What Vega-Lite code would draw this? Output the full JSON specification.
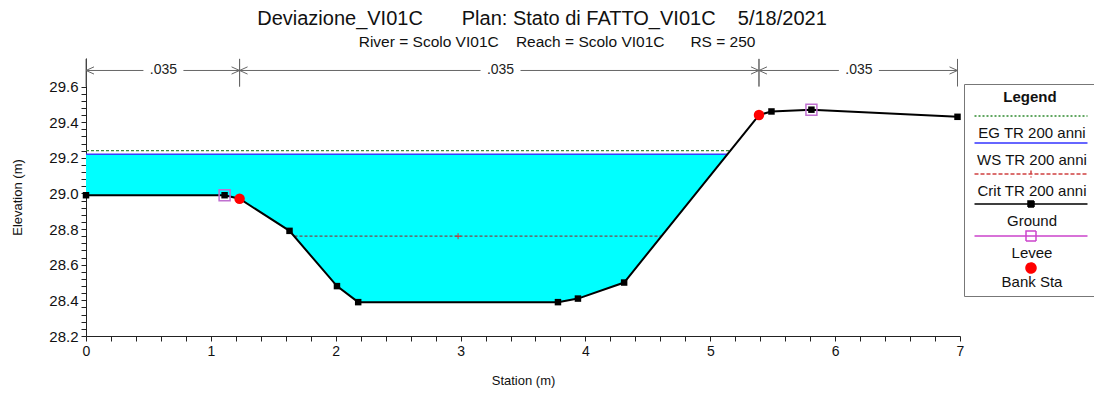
{
  "$schema": "https://vega.github.io/schema/vega-lite/v6.json",
  "width": 874,
  "height": 278,
  "autosize": "none",
  "padding": {"left": 86, "top": 58, "right": 134, "bottom": 58},
  "background": "white",
  "title": {
    "text": "Deviazione_VI01C\u00a0\u00a0\u00a0\u00a0\u00a0\u00a0\u00a0Plan: Stato di FATTO_VI01C\u00a0\u00a0\u00a0\u00a05/18/2021",
    "subtitle": "\u200b\u00a0\u00a0\u00a0\u00a0\u00a0\u00a0\u00a0River = Scolo VI01C\u00a0\u00a0\u00a0\u00a0Reach = Scolo VI01C\u00a0\u00a0\u00a0\u00a0\u00a0\u00a0RS = 250",
    "anchor": "middle",
    "frame": "group",
    "dx": 19,
    "offset": 8,
    "fontSize": 20,
    "fontWeight": "normal",
    "color": "#111111",
    "subtitleFontSize": 15.5,
    "subtitleColor": "#111111",
    "subtitlePadding": 6
  },
  "datasets": {
    "ground": [
      {"station": 0, "elev": 28.99},
      {"station": 1.11, "elev": 28.99},
      {"station": 1.23, "elev": 28.97},
      {"station": 1.63, "elev": 28.79},
      {"station": 2.01, "elev": 28.48},
      {"station": 2.18, "elev": 28.39},
      {"station": 3.78, "elev": 28.39},
      {"station": 3.94, "elev": 28.41},
      {"station": 4.31, "elev": 28.5},
      {"station": 5.39, "elev": 29.44},
      {"station": 5.49, "elev": 29.46},
      {"station": 5.81, "elev": 29.47},
      {"station": 6.98, "elev": 29.43}
    ],
    "water": [
      {"station": 0, "elev": 28.99, "ws": 29.22},
      {"station": 1.11, "elev": 28.99, "ws": 29.22},
      {"station": 1.23, "elev": 28.97, "ws": 29.22},
      {"station": 1.63, "elev": 28.79, "ws": 29.22},
      {"station": 2.01, "elev": 28.48, "ws": 29.22},
      {"station": 2.18, "elev": 28.39, "ws": 29.22},
      {"station": 3.78, "elev": 28.39, "ws": 29.22},
      {"station": 3.94, "elev": 28.41, "ws": 29.22},
      {"station": 4.31, "elev": 28.5, "ws": 29.22},
      {"station": 5.14, "elev": 29.22, "ws": 29.22}
    ],
    "eg": [{"station": 0, "elev": 29.24}, {"station": 5.16, "elev": 29.24}],
    "ws": [{"station": 0, "elev": 29.22}, {"station": 5.14, "elev": 29.22}],
    "crit": [{"station": 1.67, "elev": 28.76}, {"station": 4.61, "elev": 28.76}],
    "crit_marker": [{"station": 2.98, "elev": 28.76}],
    "levee": [{"station": 1.11, "elev": 28.99}, {"station": 5.81, "elev": 29.47}],
    "bank": [{"station": 1.23, "elev": 28.97}, {"station": 5.39, "elev": 29.44}],
    "nvals": [
      {"from": 0, "to": 1.23, "mid": 0.62, "n": ".035"},
      {"from": 1.23, "to": 5.39, "mid": 3.32, "n": ".035"},
      {"from": 5.39, "to": 6.98, "mid": 6.19, "n": ".035"}
    ],
    "legend_items": [
      {"series": "EG TR 200 anni"},
      {"series": "WS TR 200 anni"},
      {"series": "Crit TR 200 anni"},
      {"series": "Ground"},
      {"series": "Levee"},
      {"series": "Bank Sta"}
    ]
  },
  "layer": [
    {
      "encoding": {
        "x": {
          "field": "station",
          "type": "quantitative",
          "title": "Station (m)",
          "scale": {"domain": [0, 7], "nice": false, "zero": false},
          "axis": {
            "values": [0,0.2,0.4,0.6,0.8,1,1.2,1.4,1.6,1.8,2,2.2,2.4,2.6,2.8,3,3.2,3.4,3.6,3.8,4,4.2,4.4,4.6,4.8,5,5.2,5.4,5.6,5.8,6,6.2,6.4,6.6,6.8,7],
            "labelExpr": "abs(datum.value - round(datum.value)) < 0.001 ? format(datum.value, 'd') : ''"
          }
        },
        "y": {
          "field": "elev",
          "type": "quantitative",
          "title": "Elevation (m)",
          "scale": {"domain": [28.2, 29.76], "nice": false, "zero": false},
          "axis": {
            "values": [28.2,28.24,28.28,28.32,28.36,28.4,28.44,28.48,28.52,28.56,28.6,28.64,28.68,28.72,28.76,28.8,28.84,28.88,28.92,28.96,29,29.04,29.08,29.12,29.16,29.2,29.24,29.28,29.32,29.36,29.4,29.44,29.48,29.52,29.56,29.6],
            "labelExpr": "abs(datum.value * 5 - round(datum.value * 5)) < 0.001 ? format(datum.value, '.1f') : ''"
          }
        }
      },
      "layer": [
        {
          "data": {"name": "water"},
          "mark": {"type": "area", "color": "#00ffff", "opacity": 1},
          "encoding": {"y2": {"field": "ws"}}
        },
        {
          "data": {"name": "eg"},
          "mark": {"type": "line", "color": "#3a8a3a", "strokeWidth": 1.2, "strokeDash": [3, 2]},
          "encoding": {}
        },
        {
          "data": {"name": "ws"},
          "mark": {"type": "line", "color": "#3d3dff", "strokeWidth": 1.5},
          "encoding": {}
        },
        {
          "data": {"name": "crit"},
          "mark": {"type": "line", "color": "#7a4a4a", "strokeWidth": 1.2, "strokeDash": [3, 2]},
          "encoding": {}
        },
        {
          "data": {"name": "crit_marker"},
          "mark": {"type": "point", "shape": "M-1,0H1M0,-1V1", "size": 36, "color": "#d03030", "strokeWidth": 1, "filled": false, "opacity": 1},
          "encoding": {}
        },
        {
          "data": {"name": "ground"},
          "mark": {"type": "line", "color": "#000000", "strokeWidth": 2},
          "encoding": {}
        },
        {
          "data": {"name": "levee"},
          "mark": {"type": "point", "shape": "square", "size": 120, "color": "#c070d0", "strokeWidth": 1.5, "filled": false, "opacity": 1},
          "encoding": {}
        },
        {
          "data": {"name": "ground"},
          "mark": {"type": "point", "shape": "square", "size": 42, "color": "#000000", "filled": true, "opacity": 1},
          "encoding": {}
        },
        {
          "data": {"name": "bank"},
          "mark": {"type": "point", "shape": "circle", "size": 110, "color": "#ff0000", "filled": true, "opacity": 1},
          "encoding": {}
        },
        {
          "data": {"name": "legend_items"},
          "mark": {"type": "point", "filled": false, "strokeWidth": 1.5, "opacity": 1},
          "encoding": {
            "stroke": {
              "field": "series",
              "type": "nominal",
              "scale": {
                "domain": ["EG TR 200 anni", "WS TR 200 anni", "Crit TR 200 anni", "Ground", "Levee", "Bank Sta"],
                "range": ["#2e8b2e", "#3535ff", "#d04040", "#000000", "#cc44cc", "#ff0000"]
              },
              "legend": {
                "title": "Legend",
                "orient": "none",
                "legendX": 878,
                "legendY": 26,
                "symbolSize": 400,
                "symbolStrokeWidth": 1.5,
                "symbolFillColor": "transparent",
                "symbolOpacity": 1,
                "symbolOffset": 50,
                "labelAlign": "center",
                "labelOffset": -10,
                "labelFontSize": 15,
                "labelColor": "#111111",
                "labelLimit": 0,
                "titleFontSize": 15,
                "titleFontWeight": "bold",
                "titleColor": "#111111",
                "titleAnchor": "middle",
                "titlePadding": 17,
                "strokeColor": "#777777",
                "fillColor": "white",
                "padding": 6,
                "rowPadding": -1
              }
            },
            "fill": {
              "field": "series",
              "type": "nominal",
              "scale": {
                "domain": ["EG TR 200 anni", "WS TR 200 anni", "Crit TR 200 anni", "Ground", "Levee", "Bank Sta"],
                "range": ["transparent", "transparent", "transparent", "#000000", "transparent", "#ff0000"]
              }
            },
            "shape": {
              "field": "series",
              "type": "nominal",
              "scale": {
                "domain": ["EG TR 200 anni", "WS TR 200 anni", "Crit TR 200 anni", "Ground", "Levee", "Bank Sta"],
                "range": [
                  "M-5.65,-1.7H5.65",
                  "M-5.65,-1.7H5.65",
                  "M-5.65,-1.7H5.65M0,-2.05V-1.35",
                  "M-5.65,-1.7H5.65M-0.3,-2H0.3V-1.4H-0.3Z",
                  "M-5.65,-1.7H5.65M-0.5,-2.2H0.5V-1.2H-0.5Z",
                  "M-0.5,-1.4A0.5,0.5,0,1,0,0.5,-1.4A0.5,0.5,0,1,0,-0.5,-1.4Z"
                ]
              }
            },
            "strokeDash": {
              "field": "series",
              "type": "nominal",
              "scale": {
                "domain": ["EG TR 200 anni", "WS TR 200 anni", "Crit TR 200 anni", "Ground", "Levee", "Bank Sta"],
                "range": [[2, 2], [1, 0], [4, 2], [1, 0], [1, 0], [1, 0]]
              }
            }
          }
        }
      ]
    },
    {
      "data": {"name": "nvals"},
      "encoding": {
        "x": {
          "field": "from",
          "type": "quantitative",
          "title": "Station (m)",
          "scale": {"domain": [0, 7], "nice": false, "zero": false},
          "axis": {
            "values": [0,0.2,0.4,0.6,0.8,1,1.2,1.4,1.6,1.8,2,2.2,2.4,2.6,2.8,3,3.2,3.4,3.6,3.8,4,4.2,4.4,4.6,4.8,5,5.2,5.4,5.6,5.8,6,6.2,6.4,6.6,6.8,7],
            "labelExpr": "abs(datum.value - round(datum.value)) < 0.001 ? format(datum.value, 'd') : ''"
          }
        },
        "y": {
          "datum": 29.69,
          "type": "quantitative",
          "title": "Elevation (m)",
          "scale": {"domain": [28.2, 29.76], "nice": false, "zero": false},
          "axis": {
            "values": [28.2,28.24,28.28,28.32,28.36,28.4,28.44,28.48,28.52,28.56,28.6,28.64,28.68,28.72,28.76,28.8,28.84,28.88,28.92,28.96,29,29.04,29.08,29.12,29.16,29.2,29.24,29.28,29.32,29.36,29.4,29.44,29.48,29.52,29.56,29.6],
            "labelExpr": "abs(datum.value * 5 - round(datum.value * 5)) < 0.001 ? format(datum.value, '.1f') : ''"
          }
        }
      },
      "layer": [
        {
          "mark": {"type": "rule", "color": "#666666", "strokeWidth": 1},
          "encoding": {"x2": {"field": "to"}}
        },
        {
          "mark": {"type": "point", "shape": "M-1,-0.4H1V0.4H-1Z", "size": 1600, "color": "white", "filled": true, "opacity": 1},
          "encoding": {"x": {"field": "mid", "type": "quantitative"}}
        },
        {
          "mark": {"type": "text", "fontSize": 14, "color": "#222222", "baseline": "middle", "align": "center"},
          "encoding": {"x": {"field": "mid", "type": "quantitative"}, "text": {"field": "n"}}
        },
        {
          "mark": {"type": "point", "shape": "M0,0L1,-0.45M0,0L1,0.45", "size": 256, "color": "#666666", "strokeWidth": 1, "filled": false, "opacity": 1},
          "encoding": {}
        },
        {
          "mark": {"type": "point", "shape": "M0,0L-1,-0.45M0,0L-1,0.45", "size": 256, "color": "#666666", "strokeWidth": 1, "filled": false, "opacity": 1},
          "encoding": {"x": {"field": "to", "type": "quantitative"}}
        },
        {
          "mark": {"type": "rule", "color": "#666666", "strokeWidth": 1},
          "encoding": {"y": {"datum": 29.6, "type": "quantitative"}, "y2": {"datum": 29.755}}
        },
        {
          "mark": {"type": "rule", "color": "#666666", "strokeWidth": 1},
          "encoding": {"x": {"field": "to", "type": "quantitative"}, "y": {"datum": 29.6, "type": "quantitative"}, "y2": {"datum": 29.755}}
        }
      ]
    }
  ],
  "config": {
    "view": {"stroke": null},
    "font": "Liberation Sans",
    "axis": {
      "grid": false,
      "tickSize": 5,
      "tickColor": "#222222",
      "domainColor": "#222222",
      "labelColor": "#111111",
      "labelPadding": 3,
      "labelFlush": false,
      "labelOverlap": false,
      "titleFontWeight": "normal",
      "titleColor": "#111111",
      "titleFontSize": 13
    },
    "axisX": {"labelFontSize": 14, "titlePadding": 16},
    "axisY": {"labelFontSize": 15, "titlePadding": 24}
  }
}
